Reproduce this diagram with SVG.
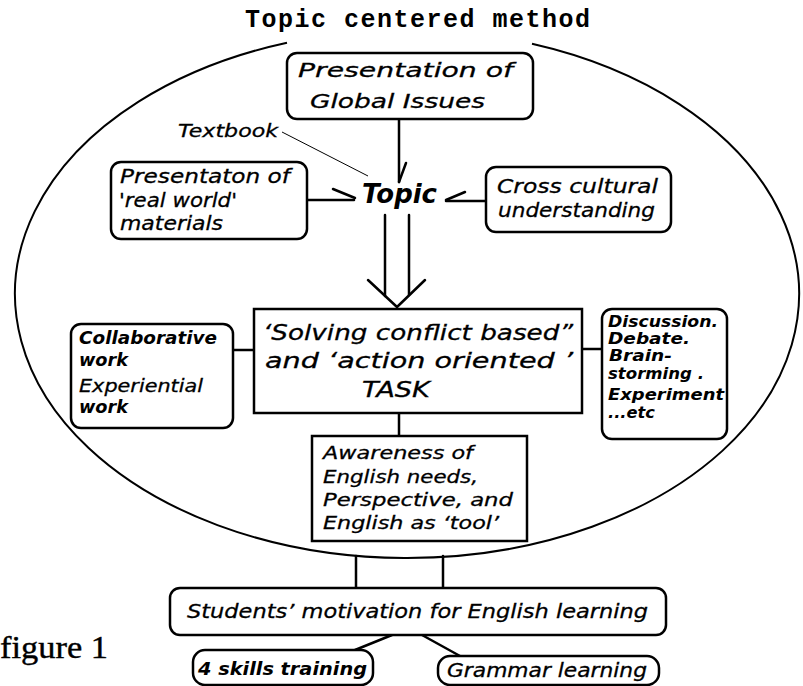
<svg xmlns="http://www.w3.org/2000/svg" width="803" height="686" viewBox="0 0 803 686">
<style>
.box{fill:#fff;stroke:#000;stroke-width:2.5}
.ln{fill:none;stroke:#000;stroke-width:2.5;stroke-linecap:round;stroke-linejoin:round}
.thin{fill:none;stroke:#000;stroke-width:1}
.el{fill:none;stroke:#000;stroke-width:2}
text{font-family:"DejaVu Sans","Liberation Sans",sans-serif;font-style:italic;fill:#000;stroke:#000;stroke-width:0.3}
.b{font-weight:bold;stroke-width:0}
.title{font-family:"Liberation Mono","DejaVu Sans Mono",monospace;font-style:normal;font-weight:bold;stroke-width:0}
.fig{font-family:"Liberation Serif","DejaVu Serif",serif;font-style:normal;stroke-width:0.4}
</style>
<rect width="803" height="686" fill="#fff"/>
<g id="frame">
<text class="title" x="245" y="27" font-size="25" textLength="345">Topic centered method</text>
<path class="el" d="M 532 43.8 A 392 264 0 1 1 287 42.7"/>
</g>
<g id="connectors">
<line class="ln" x1="399" y1="119" x2="399" y2="182"/>
<line class="ln" x1="399" y1="182" x2="406" y2="163"/>
<line class="thin" x1="282" y1="132" x2="368" y2="176"/>
<line class="ln" x1="307" y1="200" x2="354" y2="200"/>
<line class="ln" x1="333" y1="189" x2="355" y2="198"/>
<line class="ln" x1="446" y1="201" x2="486" y2="201"/>
<line class="ln" x1="465" y1="192" x2="446" y2="200"/>
<line class="ln" x1="385" y1="215" x2="385" y2="296"/>
<line class="ln" x1="409" y1="215" x2="409" y2="295"/>
<polyline class="ln" points="368,280 397,307 425,280"/>
<line class="ln" x1="233" y1="350" x2="254" y2="350"/>
<line class="ln" x1="582" y1="349" x2="602" y2="349"/>
<line class="ln" x1="399" y1="413" x2="399" y2="436"/>
<line class="ln" x1="356" y1="556" x2="356" y2="588"/>
<line class="ln" x1="443" y1="556" x2="443" y2="588"/>
<line class="ln" x1="392" y1="635" x2="355" y2="650"/>
<line class="ln" x1="422" y1="635" x2="460" y2="656"/>
</g>
<g id="global-issues">
<rect class="box" x="287" y="53" width="246" height="66" rx="10"/>
<text x="298" y="77" font-size="20" textLength="215" lengthAdjust="spacingAndGlyphs">Presentation of</text>
<text x="310" y="108" font-size="20" textLength="175" lengthAdjust="spacingAndGlyphs">Global Issues</text>
</g>
<g id="textbook">
<text x="178" y="137" font-size="18" textLength="100" lengthAdjust="spacingAndGlyphs">Textbook</text>
</g>
<g id="topic">
<text class="b" x="362" y="203" font-size="26" textLength="75" lengthAdjust="spacingAndGlyphs">Topic</text>
</g>
<g id="real-world">
<rect class="box" x="111" y="162" width="196" height="77" rx="10"/>
<text x="120" y="183" font-size="20" textLength="170" lengthAdjust="spacingAndGlyphs">Presentaton of</text>
<text x="119" y="207" font-size="20" textLength="118" lengthAdjust="spacingAndGlyphs">'real world'</text>
<text x="120" y="230" font-size="20" textLength="103" lengthAdjust="spacingAndGlyphs">materials</text>
</g>
<g id="cross-cultural">
<rect class="box" x="486" y="167" width="185" height="65" rx="10"/>
<text x="497" y="193" font-size="20" textLength="161" lengthAdjust="spacingAndGlyphs">Cross cultural</text>
<text x="498" y="217" font-size="20" textLength="157" lengthAdjust="spacingAndGlyphs">understanding</text>
</g>
<g id="task">
<rect class="box" x="254" y="309" width="328" height="104"/>
<text x="263" y="340" font-size="22" textLength="310" lengthAdjust="spacingAndGlyphs">‘Solving conflict based”</text>
<text x="265" y="368" font-size="22" textLength="308" lengthAdjust="spacingAndGlyphs">and ‘action oriented ’</text>
<text x="362" y="397" font-size="22" textLength="68" lengthAdjust="spacingAndGlyphs">TASK</text>
</g>
<g id="collaborative">
<rect class="box" x="71" y="324" width="162" height="104" rx="10"/>
<text class="b" x="79" y="344" font-size="18" textLength="138" lengthAdjust="spacingAndGlyphs">Collaborative</text>
<text class="b" x="79" y="366" font-size="18" textLength="49" lengthAdjust="spacingAndGlyphs">work</text>
<text x="79" y="392" font-size="18" textLength="124" lengthAdjust="spacingAndGlyphs">Experiential</text>
<text class="b" x="79" y="413" font-size="18" textLength="49" lengthAdjust="spacingAndGlyphs">work</text>
</g>
<g id="discussion">
<rect class="box" x="602" y="309" width="125" height="130" rx="10"/>
<text class="b" x="608" y="327" font-size="15" textLength="110" lengthAdjust="spacingAndGlyphs">Discussion.</text>
<text class="b" x="608" y="344" font-size="15" textLength="82" lengthAdjust="spacingAndGlyphs">Debate.</text>
<text class="b" x="609" y="361" font-size="15" textLength="63" lengthAdjust="spacingAndGlyphs">Brain-</text>
<text class="b" x="608" y="379" font-size="15" textLength="96" lengthAdjust="spacingAndGlyphs">storming .</text>
<text class="b" x="608" y="400" font-size="15" textLength="116" lengthAdjust="spacingAndGlyphs">Experiment</text>
<text class="b" x="608" y="418" font-size="15" textLength="47" lengthAdjust="spacingAndGlyphs">...etc</text>
</g>
<g id="awareness">
<rect class="box" x="312" y="436" width="215" height="105"/>
<text x="323" y="459" font-size="18" textLength="150" lengthAdjust="spacingAndGlyphs">Awareness of</text>
<text x="323" y="483" font-size="18" textLength="155" lengthAdjust="spacingAndGlyphs">English needs,</text>
<text x="323" y="506" font-size="18" textLength="190" lengthAdjust="spacingAndGlyphs">Perspective, and</text>
<text x="323" y="529" font-size="18" textLength="176" lengthAdjust="spacingAndGlyphs">English as ‘tool’</text>
</g>
<g id="motivation">
<rect class="box" x="170" y="588" width="496" height="47" rx="10"/>
<text x="187" y="618" font-size="20" textLength="461" lengthAdjust="spacingAndGlyphs">Students’ motivation for English learning</text>
</g>
<g id="skills">
<rect class="box" x="193" y="650" width="180" height="35" rx="12"/>
<text class="b" x="198" y="675" font-size="18" textLength="169" lengthAdjust="spacingAndGlyphs">4 skills training</text>
</g>
<g id="grammar">
<rect class="box" x="438" y="656" width="221" height="29" rx="12"/>
<text x="447" y="677" font-size="19" textLength="200" lengthAdjust="spacingAndGlyphs">Grammar learning</text>
</g>
<g id="caption">
<text class="fig" x="0" y="658" font-size="32" textLength="108" lengthAdjust="spacingAndGlyphs">figure 1</text>
</g>
</svg>
